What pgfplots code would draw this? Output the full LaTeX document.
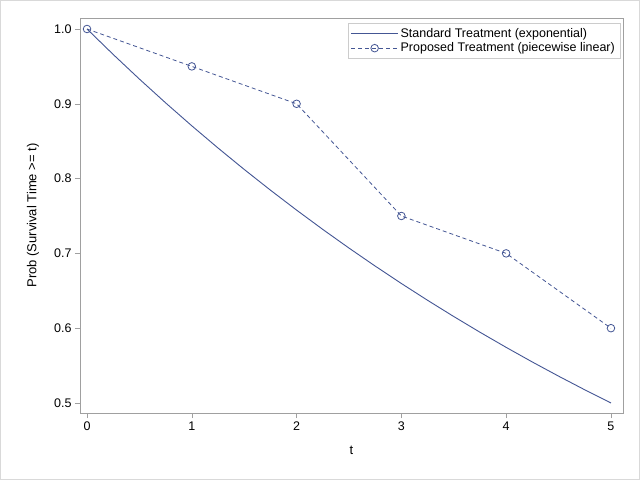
\documentclass[border=0pt]{standalone}
\usepackage{pgfplots}
\pgfplotsset{compat=1.18}
\usepackage{fontspec}
\setmainfont{Liberation Sans}
\definecolor{sasblue}{HTML}{445694}
\definecolor{framegray}{HTML}{A0A0A0}
\begin{document}
\begin{tikzpicture}[x=1pt,y=1pt]
\draw[draw=gray!30,fill=white] (0.5,0.5) rectangle (639.5,479.5);
\begin{axis}[
  at={(80pt,67pt)}, anchor=south west,
  scale only axis, width=543pt, height=395pt,
  xmin=-0.067, xmax=5.115,
  ymin=0.4866, ymax=1.0147,
  xtick={0,1,2,3,4,5},
  ytick={0.5,0.6,0.7,0.8,0.9,1.0},
  yticklabel style={/pgf/number format/.cd,fixed,precision=1,fixed zerofill},
  /pgf/number format/assume math mode=true,
  tick label style={font=\fontsize{12.5}{14}\selectfont},
  xtick pos=bottom, ytick pos=left,
  tick align=outside, major tick length=5pt,
  axis line style={draw=framegray},
  tick style={draw=framegray},
  xlabel={t},
  ylabel={Prob (Survival Time >= t)},
  every axis x label/.style={at={(axis description cs:0.5,-0.0937)},anchor=center,font=\fontsize{13}{15}\selectfont},
  every axis y label/.style={at={(axis description cs:-0.0866,0.5)},rotate=90,anchor=center,font=\fontsize{13}{15}\selectfont},
  legend style={at={(axis description cs:0.9945,0.987)},anchor=north east,
    draw=gray!40, font=\fontsize{12.5}{14}\selectfont,
    row sep=0pt, inner sep=3pt},
  legend cell align=left,
  legend image code/.code={
    \draw[mark repeat=2,mark phase=2,#1] plot coordinates {(0pt,0pt) (23.5pt,0pt) (47pt,0pt)};
  },
]
\addplot[color=sasblue, line width=0.9pt, mark=none] coordinates {
(0,1.0) (0.25,0.96593) (0.5,0.93303) (0.75,0.90125) (1,0.87055)
(1.25,0.84090) (1.5,0.81225) (1.75,0.78458) (2,0.75786)
(2.25,0.73204) (2.5,0.70711) (2.75,0.68302) (3,0.65975)
(3.25,0.63728) (3.5,0.61557) (3.75,0.59460) (4,0.57435)
(4.25,0.55478) (4.5,0.53589) (4.75,0.51763) (5,0.5)
};
\addlegendentry{Standard Treatment (exponential)}
\addplot[color=sasblue, line width=0.8pt, dash pattern=on 4pt off 3pt,
  mark=o, mark size=3.8pt, mark options={solid,line width=0.8pt}] coordinates {
(0,1.0) (1,0.95) (2,0.9) (3,0.75) (4,0.7) (5,0.6)
};
\addlegendentry{Proposed Treatment (piecewise linear)}
\end{axis}
\pgfresetboundingbox
\useasboundingbox (0,0) rectangle (640,480);
\end{tikzpicture}
\end{document}
